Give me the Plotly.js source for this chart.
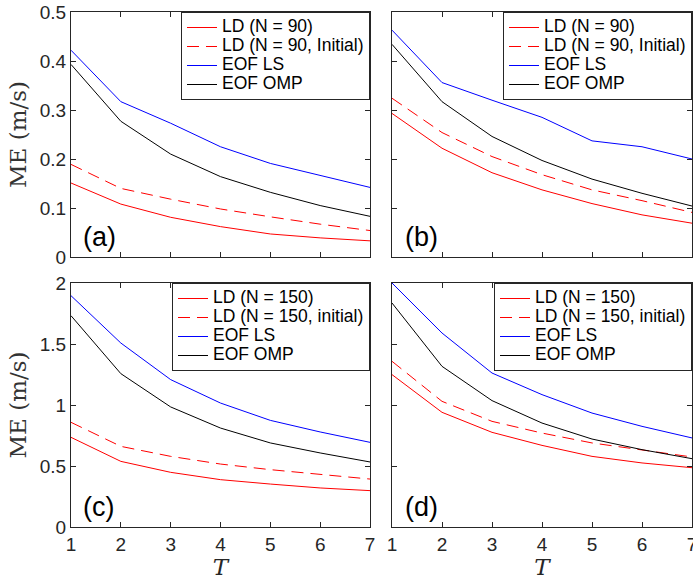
<!DOCTYPE html>
<html>
<head>
<meta charset="utf-8">
<script src="https://cdn.plot.ly/plotly-3.0.1.min.js"></script>
<style>html,body{margin:0;padding:0;background:#fff;}#chart{width:693px;height:580px;}</style>
</head>
<body>
<div id="chart"></div>
<script>
const T = [1, 2, 3, 4, 5, 6, 7];

// Panel (a)
const a_ld      = [0.151, 0.108, 0.081, 0.062, 0.047, 0.039, 0.033];
const a_ldInit  = [0.189, 0.140, 0.118, 0.098, 0.082, 0.067, 0.054];
const a_eofLS   = [0.422, 0.317, 0.273, 0.225, 0.191, 0.166, 0.142];
const a_eofOMP  = [0.393, 0.277, 0.210, 0.164, 0.132, 0.105, 0.083];
// Panel (b)
const b_ld      = [0.293, 0.222, 0.172, 0.137, 0.109, 0.086, 0.069];
const b_ldInit  = [0.324, 0.254, 0.205, 0.168, 0.137, 0.115, 0.091];
const b_eofLS   = [0.463, 0.356, 0.320, 0.285, 0.237, 0.225, 0.200];
const b_eofOMP  = [0.434, 0.317, 0.246, 0.197, 0.159, 0.130, 0.104];
// Panel (c)
const c_ld      = [0.735, 0.538, 0.448, 0.388, 0.352, 0.320, 0.298];
const c_ldInit  = [0.858, 0.661, 0.579, 0.516, 0.470, 0.429, 0.393];
const c_eofLS   = [1.896, 1.508, 1.208, 1.016, 0.874, 0.779, 0.694];
const c_eofOMP  = [1.732, 1.257, 0.984, 0.811, 0.689, 0.607, 0.533];
// Panel (d)
const d_ld      = [1.249, 0.940, 0.776, 0.669, 0.579, 0.525, 0.486];
const d_ldInit  = [1.358, 1.030, 0.866, 0.770, 0.689, 0.634, 0.574];
const d_eofLS   = [2.000, 1.590, 1.262, 1.085, 0.934, 0.825, 0.730];
const d_eofOMP  = [1.836, 1.317, 1.036, 0.852, 0.721, 0.634, 0.560];

const namesTop = ['LD (N = 90)', 'LD (N = 90, Initial)', 'EOF LS', 'EOF OMP'];
const namesBot = ['LD (N = 150)', 'LD (N = 150, initial)', 'EOF LS', 'EOF OMP'];
const panelLabels = ['(a)', '(b)', '(c)', '(d)'];

const panels = [
  {series: [a_ld, a_ldInit, a_eofLS, a_eofOMP], names: namesTop},
  {series: [b_ld, b_ldInit, b_eofLS, b_eofOMP], names: namesTop},
  {series: [c_ld, c_ldInit, c_eofLS, c_eofOMP], names: namesBot},
  {series: [d_ld, d_ldInit, d_eofLS, d_eofOMP], names: namesBot}
];
const styles = [
  {color: '#ff0000', dash: 'solid'},
  {color: '#ff0000', dash: '12px,7px'},
  {color: '#0000ff', dash: 'solid'},
  {color: '#000000', dash: 'solid'}
];

const traces = [];
panels.forEach((p, i) => {
  const sfx = i === 0 ? '' : String(i + 1);
  p.series.forEach((ys, k) => {
    traces.push({
      x: T, y: ys, type: 'scatter', mode: 'lines',
      name: '<span style="font-size:17.5px">' + p.names[k] + '</span>',
      xaxis: 'x' + sfx, yaxis: 'y' + sfx,
      legend: 'legend' + sfx,
      line: {color: styles[k].color, dash: styles[k].dash, width: 1}
    });
  });
});

const W = 693, H = 580;
const xL = [71 / W, 370 / W], xR = [392 / W, 692 / W];
const yTop = [1 - 257 / H, 1 - 12 / H], yBot = [1 - 527 / H, 1 - 283 / H];
const axColor = '#262626';
const tickFont = {family: 'Liberation Sans, Arial, sans-serif', size: 19, color: axColor};

function xax(dom, anchor, labels) {
  const o = {
    domain: dom, anchor: anchor, range: [1, 7], tickvals: T,
    showline: true, mirror: 'ticks', linecolor: axColor, linewidth: 1,
    ticks: 'inside', ticklen: 5, tickcolor: axColor, showgrid: false, zeroline: false,
    showticklabels: labels, tickfont: tickFont, ticklabeloverflow: 'allow'
  };
  if (labels) o.title = {text: 'T', font: {family: 'DejaVu Serif, serif', size: 23, color: axColor, style: 'italic'}, standoff: 0};
  return o;
}
function yax(dom, anchor, range, dtick, labels) {
  const o = {
    domain: dom, anchor: anchor, range: range, dtick: dtick, tick0: 0,
    showline: true, mirror: 'ticks', linecolor: axColor, linewidth: 1,
    ticks: 'inside', ticklen: 5, tickcolor: axColor, showgrid: false, zeroline: false,
    showticklabels: labels, tickfont: tickFont, ticklabeloverflow: 'allow'
  };
  if (labels) o.title = {text: 'ME (m/s)', font: {family: 'DejaVu Serif, serif', size: 23, color: '#333333'}, standoff: 6};
  return o;
}
function leg(xr, yt) {
  return {
    x: xr, y: yt, xanchor: 'right', yanchor: 'top', xref: 'paper', yref: 'paper',
    bgcolor: '#ffffff', bordercolor: axColor, borderwidth: 1,
    font: {family: 'Liberation Sans, Arial, sans-serif', size: 12, color: '#000'},
    tracegroupgap: 0, itemwidth: 30
  };
}

const annotations = panelLabels.map((t, i) => {
  const sfx = i === 0 ? '' : String(i + 1);
  return {
    text: t, xref: 'x' + sfx + ' domain', yref: 'y' + sfx + ' domain',
    x: 0.035, y: 0.08, xanchor: 'left', yanchor: 'middle', showarrow: false,
    font: {family: 'Liberation Sans, Arial, sans-serif', size: 27, color: '#000'}
  };
});

const layout = {
  width: W, height: H, margin: {l: 0, r: 0, t: 0, b: 0},
  paper_bgcolor: '#fff', plot_bgcolor: '#fff',
  xaxis: xax(xL, 'y', false),
  yaxis: yax(yTop, 'x', [0, 0.5], 0.1, true),
  xaxis2: xax(xR, 'y2', false),
  yaxis2: yax(yTop, 'x2', [0, 0.5], 0.1, false),
  xaxis3: xax(xL, 'y3', true),
  yaxis3: yax(yBot, 'x3', [0, 2], 0.5, true),
  xaxis4: xax(xR, 'y4', true),
  yaxis4: yax(yBot, 'x4', [0, 2], 0.5, false),
  legend: leg(xL[1], yTop[1]),
  legend2: leg(xR[1], yTop[1]),
  legend3: leg(xL[1], yBot[1]),
  legend4: leg(xR[1], yBot[1]),
  annotations: annotations,
  showlegend: true
};

Plotly.newPlot('chart', traces, layout, {displayModeBar: false, staticPlot: true});
</script>
</body>
</html>
